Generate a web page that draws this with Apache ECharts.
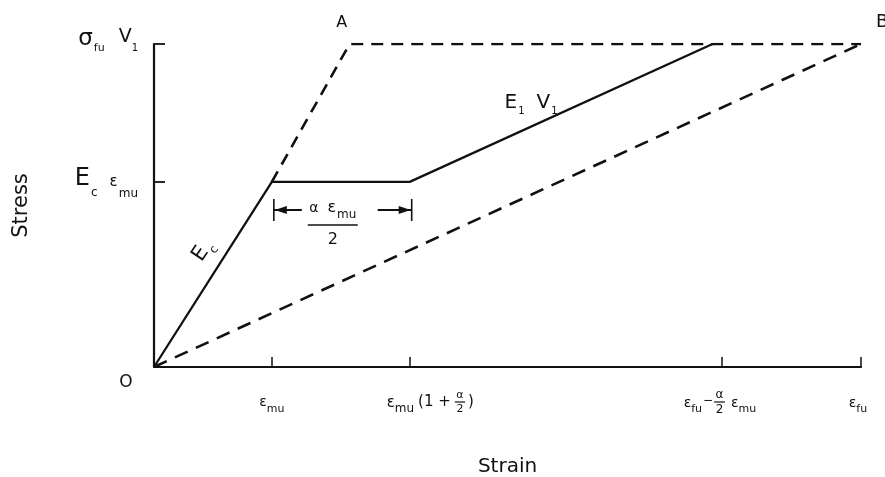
<!DOCTYPE html>
<html>
<head>
<meta charset="utf-8">
<script src="https://cdn.jsdelivr.net/npm/echarts@6/dist/echarts.min.js"></script>
<style>
html,body{margin:0;padding:0;background:#fff;}
#c{width:885px;height:477px;}
</style>
</head>
<body>
<div id="c"></div>
<script>
// ---- data (strain in units of eps_mu, stress normalised to sigma_fu*V1) ----
const strainTicks = [1, 2.17, 4.82, 6];          // eps_mu, eps_mu(1+a/2), eps_fu - a/2 eps_mu, eps_fu
const stressTicks = [0.573, 1];                  // Ec*eps_mu, sigma_fu*V1
const solidX = [0, 1, 2.17, 4.74];
const solidY = [0, 0.573, 0.573, 1];
const dashAX = [1, 1.66, 6];
const dashAY = [0.573, 1, 1];
const dashBX = [0, 6];
const dashBY = [0, 1];
const pointA = [1.66, 1];
const pointB = [6, 1];
const dimY = 0.486;

const INK = '#111';
const FONT = 'DejaVu Sans';
const chart = echarts.init(document.getElementById('c'), null, {renderer: 'canvas'});

function pairs(xs, ys) { return xs.map((x, i) => [x, ys[i]]); }

chart.setOption({
  animation: false,
  backgroundColor: '#fff',
  grid: {left: 154, right: 24, top: 44, bottom: 110, containLabel: false, outerBoundsMode: 'none'},
  xAxis: {
    type: 'value', min: 0, max: 6,
    name: 'Strain', nameLocation: 'middle', nameGap: 90,
    nameTextStyle: {fontFamily: FONT, fontSize: 20, color: INK},
    axisLine: {show: true, onZero: false, lineStyle: {color: INK, width: 2.2}},
    axisTick: {show: true, inside: true, length: 10, customValues: strainTicks, lineStyle: {color: INK, width: 1.5}},
    axisLabel: {show: false},
    splitLine: {show: false}
  },
  yAxis: {
    type: 'value', min: 0, max: 1,
    name: 'Stress', nameLocation: 'middle', nameGap: 122,
    nameTextStyle: {fontFamily: FONT, fontSize: 21, color: INK},
    axisLine: {show: true, onZero: false, lineStyle: {color: INK, width: 2.2}},
    axisTick: {show: true, inside: true, length: 11, customValues: stressTicks, lineStyle: {color: INK, width: 1.8}},
    axisLabel: {show: false},
    splitLine: {show: false}
  },
  series: [
    {type: 'line', data: pairs(solidX, solidY), symbol: 'none', lineStyle: {color: INK, width: 2.3}},
    {type: 'line', data: pairs(dashAX, dashAY), symbol: 'none', lineStyle: {color: INK, width: 2.6, type: [12, 8]}},
    {type: 'line', data: pairs(dashBX, dashBY), symbol: 'none', lineStyle: {color: INK, width: 2.6, type: [14, 9]}}
  ]
});

// ---- annotation helpers ----
const mctx = document.createElement('canvas').getContext('2d');
function tw(t, s) { mctx.font = s + 'px "' + FONT + '"'; return mctx.measureText(t).width; }
function txt(t, x, y, s, align) {
  return {type: 'text', x: x, y: y, silent: true,
    style: {text: t, fontSize: s, fontFamily: FONT, fill: INK,
      align: align || 'left', verticalAlign: 'middle', textAlign: align || 'left', textVerticalAlign: 'middle'}};
}
function seg(x1, y1, x2, y2, w) {
  return {type: 'line', silent: true, shape: {x1, y1, x2, y2}, style: {stroke: INK, lineWidth: w || 1.5}};
}
function build(pieces, x, y, align) {
  const widths = pieces.map(p => (p.gap || 0) + (p.frac ? Math.max(tw(p.num, p.size), tw(p.den, p.size)) + 3 : tw(p.t, p.size)));
  const total = widths.reduce((a, b) => a + b, 0);
  let cx = align === 'center' ? x - total / 2 : align === 'right' ? x - total : x;
  const out = [];
  pieces.forEach((p, i) => {
    cx += p.gap || 0;
    const wd = widths[i] - (p.gap || 0);
    if (p.frac) {
      out.push(txt(p.num, cx + wd / 2, y + (p.dy || 0) - p.size * 0.62, p.size, 'center'));
      out.push(seg(cx, y + (p.dy || 0), cx + wd, y + (p.dy || 0), 1.2));
      out.push(txt(p.den, cx + wd / 2, y + (p.dy || 0) + p.size * 0.68, p.size, 'center'));
    } else {
      out.push(txt(p.t, cx, y + (p.dy || 0), p.size, 'left'));
    }
    cx += wd;
  });
  return out;
}
const px = (x, y) => chart.convertToPixel({gridIndex: 0}, [x, y]);

const g = [];
const o = px(0, 0);
// origin
g.push(txt('O', o[0] - 28, o[1] + 16, 17, 'center'));

// y tick labels
const y1 = px(0, stressTicks[1]);
g.push(...build([
  {t: 'σ', size: 23}, {t: 'fu', size: 11, dy: 9, gap: 1},
  {t: 'V', size: 19, dy: -2, gap: 14}, {t: '1', size: 10, dy: 9}
], y1[0] - 16, y1[1] - 5, 'right'));
const y2 = px(0, stressTicks[0]);
g.push(...build([
  {t: 'E', size: 24, dy: -3}, {t: 'c', size: 12, dy: 11, gap: 1},
  {t: 'ε', size: 15, gap: 12, dy: 0}, {t: 'mu', size: 12, dy: 12, gap: 1}
], y2[0] - 16, y2[1], 'right'));

// x tick labels
const LY = o[1] + 38;
const t0 = px(strainTicks[0], 0);
g.push(...build([{t: 'ε', size: 14, dy: -3}, {t: 'mu', size: 11, dy: 4}], t0[0], LY, 'center'));
const t1 = px(strainTicks[1], 0);
g.push(...build([
  {t: 'ε', size: 15, dy: -2}, {t: 'mu', size: 12, dy: 4},
  {t: '(1 +', size: 15, dy: -3, gap: 4},
  {frac: true, num: 'α', den: '2', size: 11, dy: -3, gap: 4},
  {t: ')', size: 15, dy: -3, gap: 3}
], t1[0] - 23, LY, 'left'));
const t2 = px(strainTicks[2], 0);
g.push(...build([
  {t: 'ε', size: 14, dy: -2}, {t: 'fu', size: 11, dy: 4},
  {t: '−', size: 12, dy: -4, gap: 1},
  {frac: true, num: 'α', den: '2', size: 12, dy: -3, gap: 1},
  {t: 'ε', size: 14, dy: -2, gap: 6}, {t: 'mu', size: 11, dy: 4}
], t2[0] - 2, LY, 'center'));
const t3 = px(strainTicks[3], 0);
g.push(...build([{t: 'ε', size: 14, dy: -2}, {t: 'fu', size: 11, dy: 4}], t3[0] - 3, LY, 'center'));

// points A and B
const pa = px(pointA[0], pointA[1]);
g.push(txt('A', pa[0] - 8, pa[1] - 21, 16, 'center'));
const pb = px(pointB[0], pointB[1]);
g.push(txt('B', pb[0] + 15, pb[1] - 22, 18, 'left'));

// E_c along the initial slope
const pc = px(0.55, 0.36);
g.push({type: 'group', x: pc[0] - 16, y: pc[1], rotation: 0.98,
  children: build([{t: 'E', size: 21}, {t: 'c', size: 12, dy: 9, gap: 1}], 0, 0, 'center')});

// E1 V1 above the second slope
const pe = px(3.2, 0.8);
g.push(...build([
  {t: 'E', size: 20}, {t: '1', size: 10, dy: 9, gap: 1},
  {t: 'V', size: 20, gap: 12}, {t: '1', size: 10, dy: 9, gap: 1}
], pe[0], pe[1] - 6, 'center'));

// dimension a*eps_mu/2
const dl = px(solidX[1], dimY), dr = px(solidX[2], dimY);
const lx = dl[0] + 2, rx = dr[0] + 2, dyc = dl[1];
g.push(seg(lx, dyc - 11, lx, dyc + 11, 1.6));
g.push(seg(rx, dyc - 11, rx, dyc + 11, 1.6));
g.push(seg(lx, dyc, lx + 28, dyc, 2));
g.push({type: 'polygon', silent: true, shape: {points: [[lx + 1, dyc], [lx + 13, dyc - 4], [lx + 13, dyc + 4]]}, style: {fill: INK}});
g.push(seg(rx - 34, dyc, rx, dyc, 2));
g.push({type: 'polygon', silent: true, shape: {points: [[rx - 1, dyc], [rx - 13, dyc - 4], [rx - 13, dyc + 4]]}, style: {fill: INK}});
const fcx = (lx + rx) / 2 - 10;
g.push(...build([{t: 'α', size: 14}, {t: 'ε', size: 16, gap: 9}, {t: 'mu', size: 12, dy: 7, gap: 1}], fcx, dyc - 2, 'center'));
g.push(seg(fcx - 25, dyc + 15, fcx + 25, dyc + 15, 1.4));
g.push(txt('2', fcx, dyc + 30, 16, 'center'));

chart.setOption({graphic: {elements: g}});
</script>
</body>
</html>
